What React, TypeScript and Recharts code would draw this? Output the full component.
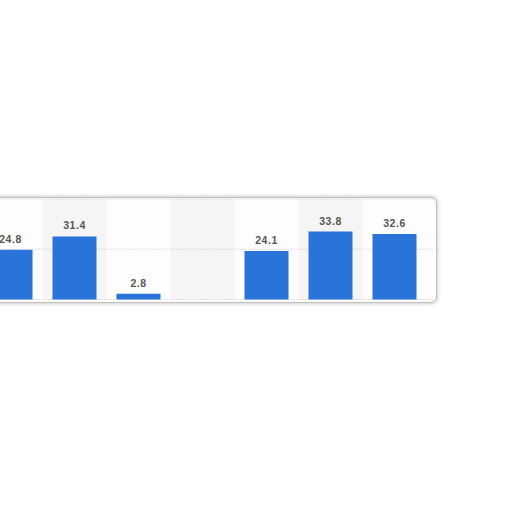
import { BarChart, Bar, XAxis, YAxis, CartesianGrid, ReferenceArea, LabelList } from 'recharts';

// Values (first category is cut off at the left edge)
const categories = ['A', 'B', 'C', 'D', 'E', 'F', 'G'];
const values: (number | null)[] = [24.8, 31.4, 2.8, null, 24.1, 33.8, 32.6];
const gridTicks = [25];
const yDomain: [number, number] = [0, 50];

const data = categories.map((name, i) => ({ name, value: values[i] }));
// every second column gets a light stripe
const stripes = categories.filter((_, i) => i % 2 === 1);

export default function App() {
  return (
    <div
      style={{
        position: 'absolute',
        left: -24,
        top: 197,
        width: 459,
        height: 104,
        border: '1.5px solid #c0c0c0',
        borderRadius: 6,
        boxShadow: '0 0 4px rgba(0,0,0,0.3)',
        background: '#fdfdfd',
        overflow: 'hidden',
      }}
    >
      <BarChart
        width={459}
        height={104}
        data={data}
        margin={{ top: 1, right: 2, bottom: 2.5, left: 1.5 }}
      >
        <XAxis dataKey="name" hide padding={{ left: 0, right: 7.5 }} />
        <YAxis hide domain={yDomain} ticks={gridTicks} />
        <CartesianGrid vertical={false} stroke="#c4c4c4" strokeDasharray="1 2" />
        {stripes.map((c) => (
          <ReferenceArea key={c} x1={c} x2={c} fill="#000" fillOpacity={0.03} stroke="none" />
        ))}
        <Bar dataKey="value" fill="#2a73d9" barSize={44} isAnimationActive={false}>
          <LabelList
            dataKey="value"
            position="top"
            offset={7}
            fill="#555"
            fontSize={10.5}
            fontWeight="bold"
            letterSpacing={0.5}
            fontFamily="Liberation Sans, Arial, sans-serif"
          />
        </Bar>
      </BarChart>
    </div>
  );
}
